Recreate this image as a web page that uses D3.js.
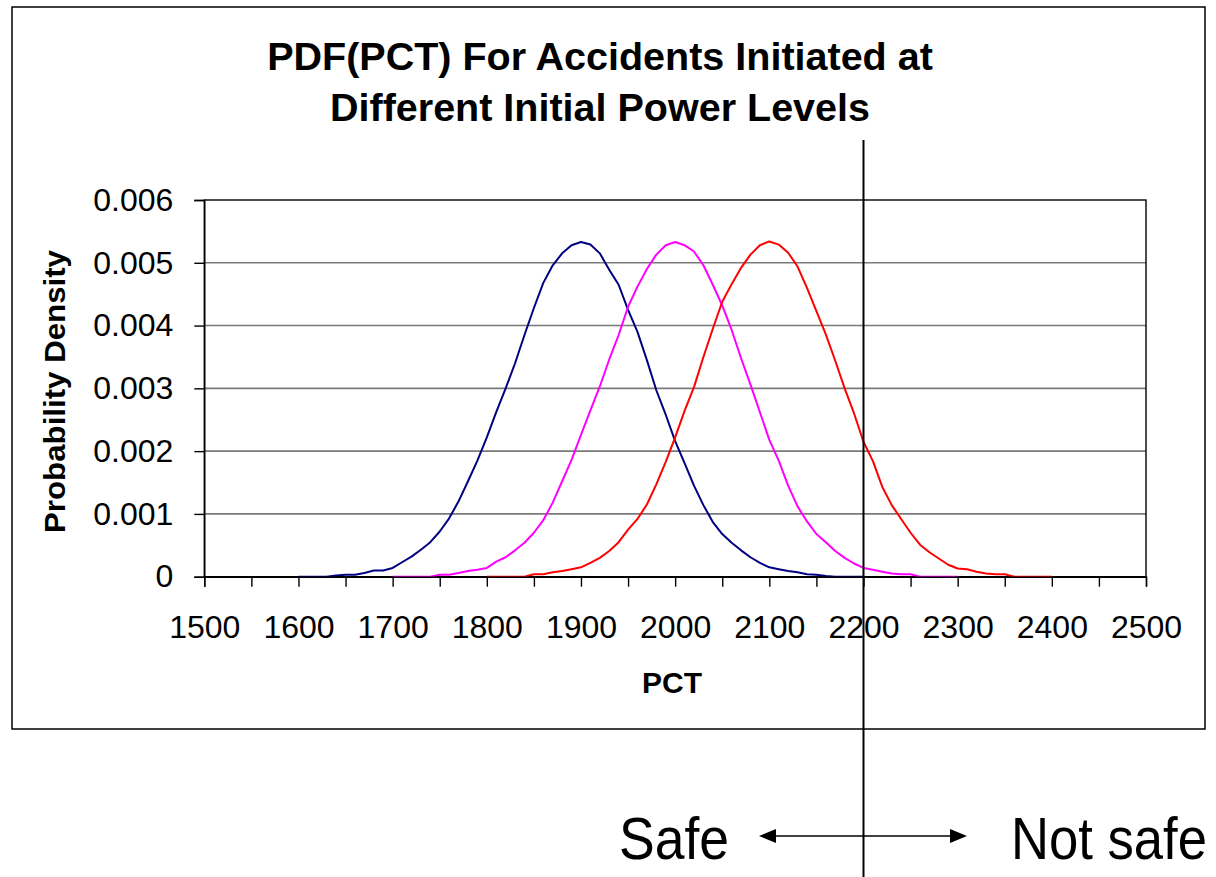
<!DOCTYPE html>
<html>
<head>
<meta charset="utf-8">
<script src="https://cdn.jsdelivr.net/npm/d3@7"></script>
<style>
	body { margin: 0; background: #fff; }
	svg text { font-family: "Liberation Sans", Arial, sans-serif; fill: #000; }
</style>
</head>
<body>
<script>
// PCT grid shared by all three series (null = series not drawn there)
var pctValues = [
	1600, 1610, 1620, 1630, 1640, 1650, 1660, 1670, 1680, 1690,
	1700, 1710, 1720, 1730, 1740, 1750, 1760, 1770, 1780, 1790,
	1800, 1810, 1820, 1830, 1840, 1850, 1860, 1870, 1880, 1890,
	1900, 1910, 1920, 1930, 1940, 1950, 1960, 1970, 1980, 1990,
	2000, 2010, 2020, 2030, 2040, 2050, 2060, 2070, 2080, 2090,
	2100, 2110, 2120, 2130, 2140, 2150, 2160, 2170, 2180, 2190,
	2200, 2210, 2220, 2230, 2240, 2250, 2260, 2270, 2280, 2290,
	2300, 2310, 2320, 2330, 2340, 2350, 2360, 2370, 2380, 2390,
	2400
];

var densityLow = [
	0, 0, 0, 0, 0.00002, 0.00003, 0.00003, 0.00006, 0.0001, 0.0001,
	0.00014, 0.00023, 0.00032, 0.00043, 0.00055, 0.00072, 0.00093, 0.0012, 0.00152, 0.00185,
	0.00222, 0.00262, 0.003, 0.0034, 0.00385, 0.00428, 0.00468, 0.00496, 0.00515, 0.00528,
	0.00533, 0.00529, 0.00515, 0.00489, 0.00465, 0.00425, 0.0039, 0.00345, 0.00297, 0.00258,
	0.00216, 0.00181, 0.00145, 0.00114, 0.00087, 0.00068, 0.00054, 0.00042, 0.00031, 0.00022,
	0.00015, 0.00012, 0.00009, 0.00007, 0.00004, 0.00003, 0.00001, 0, 0, 0,
	0, null, null, null, null, null, null, null, null, null,
	null, null, null, null, null, null, null, null, null, null,
	null
];

var densityMid = [
	null, null, null, null, null, null, null, null, null, null,
	0, 0, 0, 0, 0, 0.00003, 0.00003, 0.00006, 0.00009, 0.00011,
	0.00014, 0.00024, 0.00031, 0.00042, 0.00054, 0.0007, 0.0009, 0.00118, 0.00152, 0.00186,
	0.00226, 0.00265, 0.00303, 0.00346, 0.00385, 0.0043, 0.00462, 0.0049, 0.00513, 0.00528,
	0.00533, 0.00528, 0.00518, 0.00496, 0.00465, 0.00432, 0.00393, 0.00348, 0.00306, 0.00262,
	0.00218, 0.00185, 0.00145, 0.00112, 0.00088, 0.00068, 0.00055, 0.00041, 0.0003, 0.00021,
	0.00014, 0.00011, 0.00008, 0.00005, 0.00004, 0.00004, 0, 0, 0, 0,
	0, null, null, null, null, null, null, null, null, null,
	null
];

var densityHigh = [
	null, null, null, null, null, null, null, null, null, null,
	null, null, null, null, null, null, null, null, null, null,
	0, 0, 0, 0, 0, 0.00004, 0.00004, 0.00007, 0.00009, 0.00012,
	0.00015, 0.00022, 0.0003, 0.00041, 0.00055, 0.00075, 0.00092, 0.00115, 0.00147, 0.00183,
	0.00222, 0.00264, 0.00302, 0.0035, 0.00395, 0.00438, 0.00466, 0.00492, 0.00513, 0.00528,
	0.00534, 0.00529, 0.00516, 0.00494, 0.0046, 0.00423, 0.00386, 0.00344, 0.003, 0.0026,
	0.00215, 0.00184, 0.00143, 0.00114, 0.00092, 0.0007, 0.00051, 0.00039, 0.00029, 0.00019,
	0.00013, 0.00012, 0.00008, 0.00005, 0.00004, 0.00004, 0, 0, 0, 0,
	0
];

var seriesColors = ['#000080', '#ff00ff', '#ff0000'];
var yTickValues = [0, 0.001, 0.002, 0.003, 0.004, 0.005, 0.006];
var xTickValues = [1500, 1550, 1600, 1650, 1700, 1750, 1800, 1850, 1900, 1950, 2000,
	2050, 2100, 2150, 2200, 2250, 2300, 2350, 2400, 2450, 2500];
var titleLines = ['PDF(PCT) For Accidents Initiated at', 'Different Initial Power Levels'];
var limitPct = 2200;

function PdfChart() {
	this.chart = {};
	this.props = {};
	this.props.width = 1216;
	this.props.height = 877;
	this.props.plot = { left: 204.3, right: 1146, top: 200, bottom: 576.7 };
}

PdfChart.prototype.createChart = function() {
	this.chart.svg = d3.select('body')
	.append('svg')
		.attr('width', this.props.width)
		.attr('height', this.props.height);

	// outer chart frame
	this.chart.svg.append('rect')
		.attr('x', 12).attr('y', 7)
		.attr('width', 1193).attr('height', 722)
		.attr('fill', 'none')
		.attr('stroke', '#000')
		.attr('stroke-width', 1.5);

	this.chart.x = d3.scaleLinear()
		.domain([1500, 2500])
		.range([this.props.plot.left, this.props.plot.right]);
	this.chart.y = d3.scaleLinear()
		.domain([0, 0.006])
		.range([this.props.plot.bottom, this.props.plot.top]);
}

PdfChart.prototype.addGrid = function() {
	var y = this.chart.y, p = this.props.plot;
	this.chart.svg.append('g')
		.selectAll('line')
		.data(yTickValues.slice(1, -1))
		.join('line')
			.attr('x1', p.left).attr('x2', p.right)
			.attr('y1', function(d) { return y(d); })
			.attr('y2', function(d) { return y(d); })
			.attr('stroke', '#7a7a7a')
			.attr('stroke-width', 1.6);

	this.chart.svg.append('rect')
		.attr('x', p.left).attr('y', p.top)
		.attr('width', p.right - p.left).attr('height', p.bottom - p.top)
		.attr('fill', 'none')
		.attr('stroke', '#000')
		.attr('stroke-width', 1.4);
}

PdfChart.prototype.addAxes = function() {
	var p = this.props.plot;
	var yAxis = d3.axisLeft(this.chart.y)
		.tickValues(yTickValues)
		.tickSize(10)
		.tickPadding(21)
		.tickFormat(function(d) { return d === 0 ? '0' : d3.format('.3f')(d); });

	var gy = this.chart.svg.append('g')
		.attr('transform', 'translate(' + p.left + ',0)')
		.call(yAxis);
	gy.selectAll('text').style('font-size', '32px');

	var xAxis = d3.axisBottom(this.chart.x)
		.tickValues(xTickValues)
		.tickSize(10)
		.tickFormat(function(d) { return d % 100 === 0 ? d : ''; });

	var gx = this.chart.svg.append('g')
		.attr('transform', 'translate(0,' + p.bottom + ')')
		.call(xAxis);
	gx.selectAll('text')
		.style('font-size', '32px')
		.attr('y', 61)
		.attr('dy', 0);

	[gx, gy].forEach(function(g) {
		g.select('.domain').attr('stroke', '#000').attr('stroke-width', 1.4);
		g.selectAll('.tick line').attr('stroke', '#000').attr('stroke-width', 1.4);
	});

	this.chart.svg.append('text')
		.attr('x', 672).attr('y', 693)
		.attr('text-anchor', 'middle')
		.style('font-size', '30px')
		.style('font-weight', 'bold')
		.text('PCT');

	this.chart.svg.append('text')
		.attr('transform', 'translate(65,391.5) rotate(-90)')
		.attr('text-anchor', 'middle')
		.attr('textLength', 283)
		.attr('lengthAdjust', 'spacingAndGlyphs')
		.style('font-size', '29px')
		.style('font-weight', 'bold')
		.text('Probability Density');
}

PdfChart.prototype.addTitle = function() {
	this.chart.svg.append('g')
		.selectAll('text')
		.data(titleLines)
		.join('text')
			.attr('x', 600)
			.attr('y', function(d, i) { return 70 + i * 51; })
			.attr('text-anchor', 'middle')
			.style('font-size', '39.5px')
			.style('font-weight', 'bold')
			.text(function(d) { return d; });
}

PdfChart.prototype.addCurves = function() {
	var x = this.chart.x, y = this.chart.y;
	var line = d3.line()
		.defined(function(d) { return d[1] !== null; })
		.x(function(d) { return x(d[0]); })
		.y(function(d) { return y(d[1]); });

	[densityLow, densityMid, densityHigh].forEach(function(values, i) {
		var pts = pctValues.map(function(pct, j) { return [pct, values[j]]; });
		this.chart.svg.append('path')
			.datum(pts)
			.attr('fill', 'none')
			.attr('stroke', seriesColors[i])
			.attr('stroke-width', 2)
			.attr('stroke-linejoin', 'round')
			.attr('d', line);
	}, this);
}

PdfChart.prototype.addLimit = function() {
	var lx = this.chart.x(limitPct);
	var svg = this.chart.svg;
	var ay = 836;

	svg.append('line')
		.attr('x1', lx).attr('x2', lx)
		.attr('y1', 140).attr('y2', 877)
		.attr('stroke', '#000')
		.attr('stroke-width', 2);

	// double-headed arrow: shaft plus two filled heads
	svg.append('line')
		.attr('x1', 770).attr('x2', 956)
		.attr('y1', ay).attr('y2', ay)
		.attr('stroke', '#000')
		.attr('stroke-width', 1.5);
	svg.append('path')
		.attr('d', 'M759,' + ay + 'L776,' + (ay - 7) + 'L776,' + (ay + 7) + 'Z')
		.attr('fill', '#000');
	svg.append('path')
		.attr('d', 'M967,' + ay + 'L950,' + (ay - 7) + 'L950,' + (ay + 7) + 'Z')
		.attr('fill', '#000');

	svg.append('text')
		.attr('x', 619).attr('y', 859)
		.attr('textLength', 110)
		.attr('lengthAdjust', 'spacingAndGlyphs')
		.style('font-size', '60px')
		.text('Safe');

	svg.append('text')
		.attr('x', 1011).attr('y', 859)
		.attr('textLength', 196)
		.attr('lengthAdjust', 'spacingAndGlyphs')
		.style('font-size', '60px')
		.text('Not safe');
}

var pdf = new PdfChart();
pdf.createChart();
pdf.addGrid();
pdf.addTitle();
pdf.addCurves();
pdf.addAxes();
pdf.addLimit();
</script>
</body>
</html>
